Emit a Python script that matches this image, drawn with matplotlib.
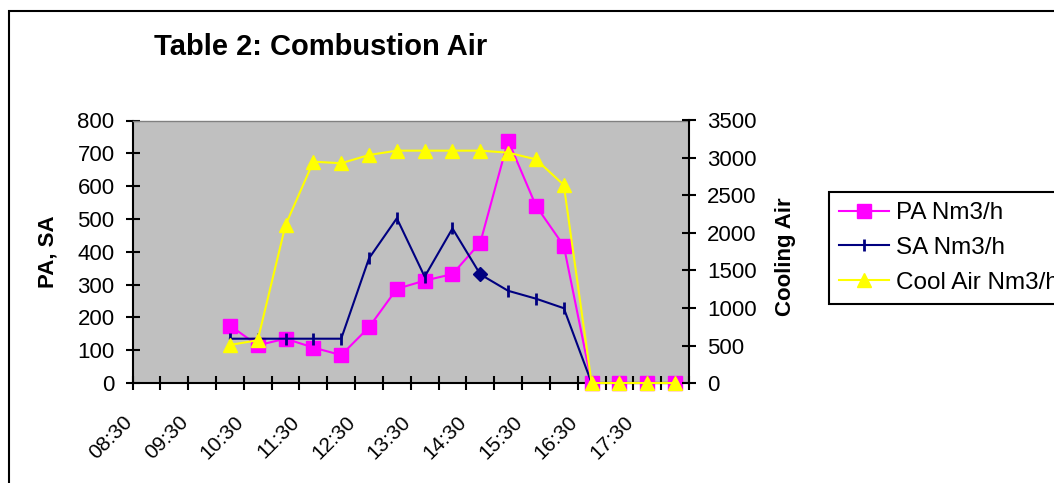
import matplotlib
matplotlib.use("Agg")
import matplotlib.pyplot as plt
import matplotlib.transforms as mtransforms
from matplotlib.patches import Rectangle

plt.rcParams['font.family'] = ['Liberation Sans', 'DejaVu Sans']

# category axis: half-hour slots, every second one labelled
times = ['08:30', '09:00', '09:30', '10:00', '10:30', '11:00', '11:30', '12:00',
         '12:30', '13:00', '13:30', '14:00', '14:30', '15:00', '15:30', '16:00',
         '16:30', '17:00', '17:30', '18:00']
label_times = ['08:30', '09:30', '10:30', '11:30', '12:30', '13:30', '14:30',
               '15:30', '16:30', '17:30']

data_times = ['10:00', '10:30', '11:00', '11:30', '12:00', '12:30', '13:00',
              '13:30', '14:00', '14:30', '15:00', '15:30', '16:00', '16:30',
              '17:00', '17:30', '18:00']
pa = [175, 115, 135, 108, 85, 170, 287, 312, 332, 428, 739, 540, 418, 0, 0, 0, 0]
sa = [135, 135, 135, 135, 135, 380, 502, 324, 471, 331, 281, 257, 228, 0, 0, 0, 0]
cool = [507, 570, 2107, 2951, 2930, 3040, 3098, 3098, 3098, 3098, 3071, 2982, 2640,
        0, 0, 0, 0]
sa_diamond_time = '14:30'

W, H = 1054, 483
fig = plt.figure(figsize=(W / 100, H / 100), dpi=100)

L, R, T, B = 132.5, 689, 120.5, 383
ax = fig.add_axes([L / W, 1 - B / H, (R - L) / W, (B - T) / H])
ax.set_facecolor('#C0C0C0')

xs = [times.index(t) + 0.5 for t in data_times]
pa_line, = ax.plot(xs, pa, color='#FF00FF', lw=1.5, marker='s', ms=9.5,
                   mec='#FF00FF', clip_on=False, zorder=3, label='PA Nm3/h')
sa_line, = ax.plot(xs, sa, color='#000080', lw=1.5, marker='|', ms=9, mew=2,
                   clip_on=False, zorder=4, label='SA Nm3/h')
k = data_times.index(sa_diamond_time)
ax.plot([xs[k]], [sa[k]], marker='D', color='#000080', ms=7, zorder=5)

ax.set_xlim(0, len(times))
ax.set_ylim(0, 800)
ax.set_yticks(range(0, 801, 100))

ax2 = ax.twinx()
cool_line, = ax2.plot(xs, cool, color='#FFFF00', lw=1.5, marker='^', ms=10,
                      clip_on=False, label='Cool Air Nm3/h')
ax2.set_ylim(0, 3500)
ax2.set_yticks(range(0, 3501, 500))

for s in ['left', 'bottom']:
    ax.spines[s].set_linewidth(1.5)
ax.spines['right'].set_visible(False)
ax.spines['top'].set_color('#808080')
ax.spines['top'].set_linewidth(1)
for s in ['left', 'bottom', 'top']:
    ax2.spines[s].set_visible(False)
ax2.spines['right'].set_linewidth(1.5)

ax.set_xticks(range(len(times) + 1), minor=True)
ax.set_xticks([times.index(t) + 0.5 for t in label_times])
ax.set_xticklabels(label_times)
ax.tick_params(axis='x', which='minor', direction='inout', length=9.5, width=1.5)
ax.tick_params(axis='x', which='major', length=0, pad=21, labelsize=15)
shift = mtransforms.ScaledTranslation(-0.10, 0, fig.dpi_scale_trans)
for lab in ax.get_xticklabels():
    lab.set_rotation(45)
    lab.set_ha('right')
    lab.set_va('top')
    lab.set_transform(lab.get_transform() + shift)

ax.tick_params(axis='y', direction='inout', length=9.5, width=1.5, pad=8.2, labelsize=16)
ax2.tick_params(axis='y', direction='inout', length=9.5, width=1.5, pad=8.2, labelsize=16)

fig.text(48 / W, 1 - 251.7 / H, 'PA, SA', rotation=90, ha='center', va='center',
         fontsize=16, fontweight='bold')
fig.text(785 / W, 1 - 256.5 / H, 'Cooling Air', rotation=90, ha='center', va='center',
         fontsize=16, fontweight='bold')
fig.text(320.5 / W, 1 - 55 / H, 'Table 2: Combustion Air', ha='center', va='baseline',
         fontsize=21, fontweight='bold')

leg = fig.legend(handles=[pa_line, sa_line, cool_line], loc='upper left',
                 bbox_to_anchor=(829 / W, 1 - 192 / H), fontsize=17.5,
                 fancybox=False, edgecolor='black', framealpha=1,
                 handlelength=2.05, handletextpad=0.28, borderpad=0.42,
                 labelspacing=0.52, borderaxespad=0)
leg.get_frame().set_linewidth(1.5)

fig.patches.append(Rectangle((9 / W, -0.1), 1.2, 1.1 - 11 / H, transform=fig.transFigure,
                             fill=False, ec='black', lw=1.5))

fig.savefig('out.png', dpi=100)
